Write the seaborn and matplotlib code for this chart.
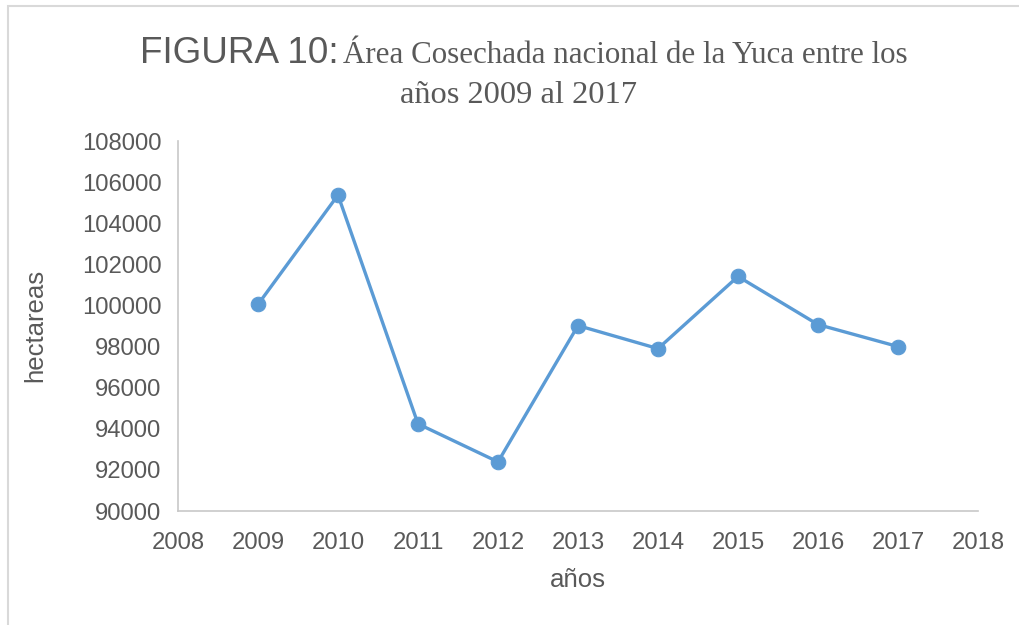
import matplotlib
matplotlib.use("Agg")
import matplotlib.pyplot as plt
import seaborn as sns
import pandas as pd
from matplotlib.patches import Rectangle

# data
years = [2009, 2010, 2011, 2012, 2013, 2014, 2015, 2016, 2017]
hectareas = [100050, 105370, 94240, 92390, 99020, 97900, 101410, 99070, 98000]
x_ticks = list(range(2008, 2019))
y_ticks = list(range(90000, 108001, 2000))

df = pd.DataFrame({"años": years, "hectareas": hectareas})

sns.set_style("white")
plt.rcParams['font.family'] = ['Liberation Sans', 'DejaVu Sans']

grey = '#595959'
blue = '#5B9BD5'

fig = plt.figure(figsize=(10.2, 6.25), dpi=100)
ax = fig.add_axes([178 / 1020, 1 - 511 / 625, 800 / 1020, 370 / 625])

sns.lineplot(data=df, x="años", y="hectareas", ax=ax, color=blue, linewidth=2.4,
             marker='o', markersize=10.5, markerfacecolor=blue, markeredgecolor=blue)

ax.set_xlim(2008, 2018)
ax.set_ylim(90000, 108000)
ax.set_xticks(x_ticks)
ax.set_yticks(y_ticks)
ax.tick_params(axis='both', length=0, labelsize=17.2, colors=grey)
ax.tick_params(axis='y', pad=12)
ax.tick_params(axis='x', pad=15)
for s in ['top', 'right']:
    ax.spines[s].set_visible(False)
for s in ['left', 'bottom']:
    ax.spines[s].set_color('#C8C8C8')
    ax.spines[s].set_linewidth(1.2)

ax.set_xlabel("años", fontsize=18.5, color=grey)
ax.set_ylabel("hectareas", fontsize=18.5, color=grey)
ax.xaxis.set_label_coords(578 / 1020, 1 - 580 / 625, transform=fig.transFigure)
ax.yaxis.set_label_coords(35 / 1020, 1 - 325 / 625, transform=fig.transFigure)
ax.xaxis.label.set_va('center')
ax.yaxis.label.set_va('center')

# chart border (cut at right and bottom)
fig.patches.append(Rectangle((8 / 1020, -0.1), 1.2, 1 - 6 / 625 + 0.1,
                             transform=fig.transFigure, fill=False,
                             edgecolor='#D9D9D9', linewidth=1.5))

# mixed-font title
fig.canvas.draw()
r = fig.canvas.get_renderer()
t1 = fig.text(140 / 1020, 1 - 63 / 625, "FIGURA 10:", fontsize=26.6, color=grey,
              family='Liberation Sans', va='baseline', ha='left')
bb = t1.get_window_extent(renderer=r)
fig.text((bb.x1 + 4) / 1020, 1 - 63 / 625,
         "Área Cosechada nacional de la Yuca entre los", fontsize=22.3, color=grey,
         family='Liberation Serif', va='baseline', ha='left')
fig.text(519 / 1020, 1 - 103 / 625, "años 2009 al 2017", fontsize=23.4, color=grey,
         family='Liberation Serif', va='baseline', ha='center')

fig.savefig("out.png", dpi=100)
